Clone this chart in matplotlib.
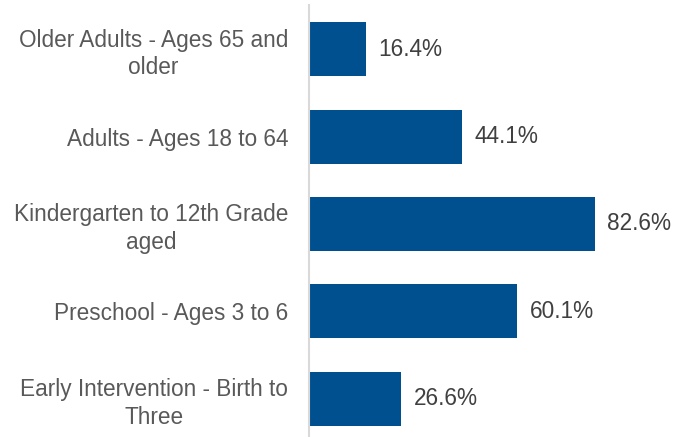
import matplotlib.pyplot as plt

categories = [
    "Older Adults - Ages 65 and\nolder",
    "Adults - Ages 18 to 64",
    "Kindergarten to 12th Grade\naged",
    "Preschool - Ages 3 to 6",
    "Early Intervention - Birth to\nThree",
]
values = [16.4, 44.1, 82.6, 60.1, 26.6]
value_labels = ["16.4%", "44.1%", "82.6%", "60.1%", "26.6%"]

plt.rcParams['font.family'] = ['Liberation Sans', 'DejaVu Sans']

fig = plt.figure(figsize=(6.74, 4.37), dpi=100)
W, H = 674, 437
# axes spans from the category axis line to the right edge
ax = fig.add_axes([309 / W, -5.5 / H, (674 - 309) / W, (442.5 - 5.5) / H])

pos = range(len(categories))
ax.barh(pos, values, height=0.62, color="#00508F")
ax.set_xlim(0, 365 / 3.46)
ax.set_ylim(4.5, -0.5)

ax.set_yticks(list(pos))
ax.set_yticklabels(categories, fontsize=16.3, color="#595959", linespacing=1.25)
for lbl in ax.get_yticklabels():
    lbl.set_multialignment("center")
ax.tick_params(axis="y", length=0, pad=15)
ax.set_xticks([])

for s in ["top", "right", "bottom"]:
    ax.spines[s].set_visible(False)
ax.spines["left"].set_color("#D9D9D9")
ax.spines["left"].set_linewidth(1.5)

for i, (v, t) in enumerate(zip(values, value_labels)):
    ax.annotate(t, (v, i), xytext=(9, 0), textcoords="offset points",
                va="center", ha="left", fontsize=16.3, color="#404040")

fig.savefig("out.png", dpi=100)
